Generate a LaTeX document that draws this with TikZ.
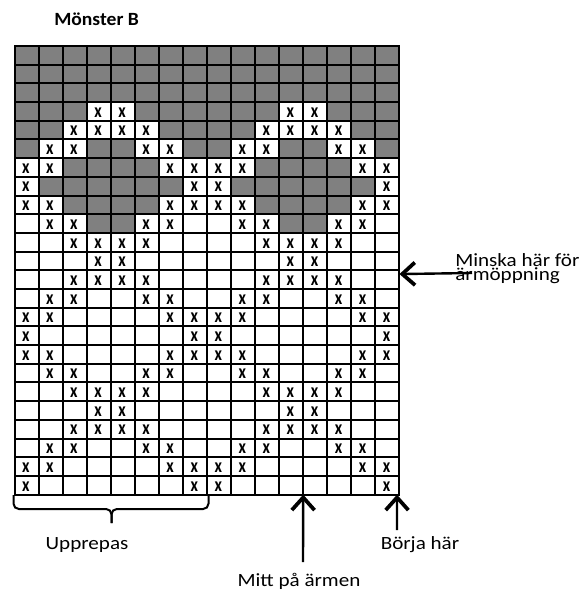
\documentclass[tikz,border=0pt]{standalone}
\usepackage{fontspec}
\setmainfont{Carlito}
\usetikzlibrary{arrows.meta}
\usetikzlibrary{positioning}

\begin{document}
\begin{tikzpicture}
		[x=0.75pt, y=-0.75pt,
		every node/.style={inner sep=0pt},
		> = {Straight Barb[length=9.5pt,width=17pt,line width=2.8pt]},
		label/.style = {font=\fontsize{14}{10}\selectfont, xscale=1.13},
		bigarrow/.style = {->, line width=1.8pt},
		gridline/.style = {line width=1.5pt},
		dark/.style = {fill=gray},
		xmark/.style = {font=\fontsize{13.5}{13.5}\selectfont\bfseries, xscale=0.9, yscale=1.1},
		upprepas/.style = {line width=1.5pt, rounded corners=4pt}
		]
		\useasboundingbox (0,0) rectangle (587,590);

		\node[font=\fontsize{14}{14}\selectfont\bfseries, xscale=1.05, anchor=base west] (title) at (54,25) {Mönster B};

		% the chart, one cell per stitch
		\begin{scope}[shift={(14.5,46)}, x=18.045pt, y=-14.02pt]
			\foreach \r/\cols in {1/{1,...,16}, 2/{1,...,16}, 3/{1,...,16},
					4/{1,2,3,6,7,8,9,10,11,14,15,16}, 5/{1,2,7,8,9,10,15,16},
					6/{1,4,5,8,9,12,13,16}, 7/{3,4,5,6,11,12,13,14},
					8/{2,3,4,5,6,7,10,11,12,13,14,15}, 9/{3,4,5,6,11,12,13,14},
					10/{4,5,12,13}}
				\foreach \c in \cols
					\fill[dark] (\c-1,\r-1) rectangle (\c,\r);

			\foreach \r/\cols in {4/{4,5,12,13}, 5/{3,4,5,6,11,12,13,14},
					6/{2,3,6,7,10,11,14,15}, 7/{1,2,7,8,9,10,15,16}, 8/{1,8,9,16},
					9/{1,2,7,8,9,10,15,16}, 10/{2,3,6,7,10,11,14,15},
					11/{3,4,5,6,11,12,13,14}, 12/{4,5,12,13},
					13/{3,4,5,6,11,12,13,14}, 14/{2,3,6,7,10,11,14,15},
					15/{1,2,7,8,9,10,15,16}, 16/{1,8,9,16},
					17/{1,2,7,8,9,10,15,16}, 18/{2,3,6,7,10,11,14,15},
					19/{3,4,5,6,11,12,13,14}, 20/{4,5,12,13},
					21/{3,4,5,6,11,12,13,14}, 22/{2,3,6,7,10,11,14,15},
					23/{1,2,7,8,9,10,15,16}, 24/{1,8,9,16}}
				\foreach \c in \cols
					\node[xmark] (x\r-\c) at (\c-0.53,\r-0.45) {x};

			\foreach \c in {0,...,16}
				\draw[gridline] (\c,0) -- (\c,24);
			\foreach \r in {0,...,24}
				\draw[gridline] (0,\r) -- (16,\r);
			\draw[gridline] (0,0) rectangle (16,24);

			\coordinate (mitt tip) at (12,24);
			\coordinate (start tip) at (15.9,24);
			\coordinate (minska tip) at (16,12.2);
		\end{scope}

		% brace under the repeat
		\coordinate (rep start) at (13.5,495);
		\coordinate (rep end) at (208.5,495);
		\coordinate (rep bar) at (111.5,509);
		\coordinate (rep tip) at (111.5,523);
		\draw[upprepas] (rep start) |- (rep bar) -- (rep tip);
		\draw[upprepas] (rep end) |- (rep bar) -- (rep tip);
		\node[label, anchor=base] (rep) at (87,549) {Upprepas};

		\node[label, anchor=base] (mitt) at (299,586.5) {Mitt på ärmen};
		\coordinate (mitt tail) at (303,562);
		\draw[bigarrow] (mitt tail) -- (mitt tip);

		\node[label, anchor=base] (start) at (420,549) {Börja här};
		\coordinate (start tail) at (397,530);
		\draw[bigarrow] (start tail) -- (start tip);

		\node[label, anchor=base west, align=left] (minska) at (455,280) {Minska här för\\ärmöppning};
		\coordinate (minska tail) at (472,273);
		\draw[bigarrow] (minska tail) -- (minska tip);
	\end{tikzpicture}
\end{document}
